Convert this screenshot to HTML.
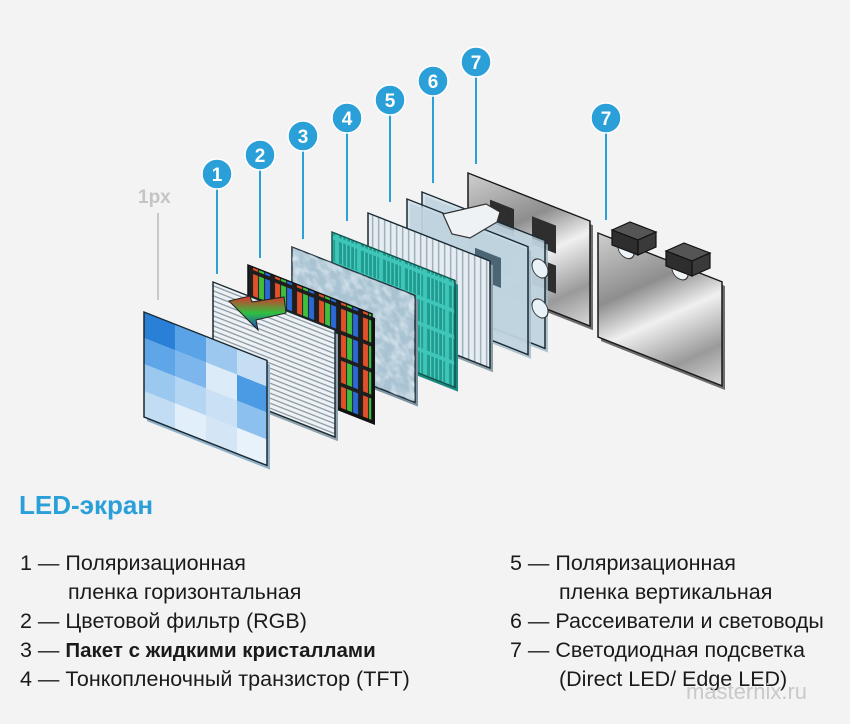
<!DOCTYPE html>
<html><head><meta charset="utf-8">
<style>
html,body{margin:0;padding:0;background:#f3f3f3;}
body{width:850px;height:724px;overflow:hidden;position:relative;font-family:"Liberation Sans","DejaVu Sans",sans-serif;}
svg{position:absolute;left:0;top:0;}
.t{position:absolute;font-size:21.5px;color:#1a1a1a;white-space:nowrap;line-height:1;}
</style></head><body>
<svg width="850" height="724" viewBox="0 0 850 724">
<defs>
<pattern id="hl" width="10" height="5" patternUnits="userSpaceOnUse"><rect width="10" height="5" fill="#eef2f5"/><rect y="3" width="10" height="1.4" fill="#8c9ba6"/></pattern>
<pattern id="vl" width="6" height="10" patternUnits="userSpaceOnUse"><rect width="6" height="10" fill="#e6edf2"/><rect x="4" width="1.4" height="10" fill="#9aaab5"/></pattern>
<pattern id="rgb" x="4" y="5" width="22" height="26" patternUnits="userSpaceOnUse"><rect width="22" height="26" fill="#1e1e1e"/><rect x="1" y="2" width="5" height="22" fill="#e0502a"/><rect x="7" y="2" width="5" height="22" fill="#3fbf3a"/><rect x="13" y="2" width="5" height="22" fill="#2a6ad8"/></pattern>
<pattern id="teal" x="5" y="5" width="22" height="26" patternUnits="userSpaceOnUse"><rect width="22" height="26" fill="#3fc6b8"/><rect x="2" y="2" width="18" height="22" fill="#1f9a8e"/><rect x="5" y="2" width="1.2" height="22" fill="#4fd0c2"/><rect x="9" y="2" width="1.2" height="22" fill="#4fd0c2"/><rect x="13" y="2" width="1.2" height="22" fill="#4fd0c2"/><rect x="17" y="2" width="1.2" height="22" fill="#4fd0c2"/></pattern>
<filter id="noise" x="0" y="0" width="100%" height="100%"><feTurbulence type="fractalNoise" baseFrequency="0.12" numOctaves="2" seed="3"/><feColorMatrix type="matrix" values="0 0 0 0 0.92  0 0 0 0 0.96  0 0 0 0 1  0 0 0 1.6 -0.6"/><feComposite in2="SourceGraphic" operator="in"/></filter>
<linearGradient id="metal" x1="0" y1="0" x2="1" y2="1"><stop offset="0" stop-color="#cfcfcf"/><stop offset="0.35" stop-color="#8e8e8e"/><stop offset="0.55" stop-color="#f0f0f0"/><stop offset="0.8" stop-color="#9a9a9a"/><stop offset="1" stop-color="#d8d8d8"/></linearGradient>
<linearGradient id="rain" x1="0" y1="0" x2="0" y2="1"><stop offset="0" stop-color="#e0302a"/><stop offset="0.5" stop-color="#30c040"/><stop offset="1" stop-color="#1a40c8"/></linearGradient>
</defs>

<g stroke="#2a9fd8" stroke-width="2">
<line x1="217" y1="174" x2="217" y2="274"/>
<line x1="260" y1="155" x2="260" y2="258"/>
<line x1="303" y1="136" x2="303" y2="239"/>
<line x1="347" y1="118" x2="347" y2="221"/>
<line x1="390" y1="100" x2="390" y2="202"/>
<line x1="433" y1="81" x2="433" y2="183"/>
<line x1="476" y1="62" x2="476" y2="164"/>
<line x1="606" y1="118" x2="606" y2="220"/>
</g>
<line x1="158" y1="213" x2="158" y2="300" stroke="#c8c8c8" stroke-width="2"/>
<text x="138" y="203" font-family="Liberation Sans, sans-serif" font-weight="bold" font-size="19" fill="#c4c4c4">1px</text>

<!-- 7b -->
<g transform="translate(598,233) skewY(21.5)">
<rect x="3" y="3" width="124" height="104" fill="#6e6e6e"/>
<rect width="124" height="104" fill="url(#metal)" stroke="#1a1a1a" stroke-width="1.5"/>
<ellipse cx="28" cy="6" rx="8" ry="8" fill="#eef4f8" stroke="#333"/>
<ellipse cx="82" cy="6" rx="8" ry="8" fill="#eef4f8" stroke="#333"/>
</g>
<g stroke="#111" stroke-width="1.2">
<polygon points="612,230 630,222 656,232 638,240" fill="#555"/>
<polygon points="612,230 638,240 638,255 612,245" fill="#2e2e2e"/>
<polygon points="638,240 656,232 656,247 638,255" fill="#3a3a3a"/>
<polygon points="666,251 684,243 710,253 692,261" fill="#555"/>
<polygon points="666,251 692,261 692,276 666,266" fill="#2e2e2e"/>
<polygon points="692,261 710,253 710,268 692,276" fill="#3a3a3a"/>
</g>

<!-- 7 -->
<g transform="translate(468,173) skewY(21.5)">
<rect x="3" y="3" width="122" height="105" fill="#6e6e6e"/>
<rect width="122" height="105" fill="url(#metal)" stroke="#1a1a1a" stroke-width="1.5"/>
<rect x="22" y="18" width="24" height="28" fill="#2e2e2e"/>
<rect x="64" y="18" width="24" height="28" fill="#2e2e2e"/>
<rect x="22" y="58" width="24" height="28" fill="#2e2e2e"/>
<rect x="64" y="58" width="24" height="28" fill="#2e2e2e"/>
</g>
<g transform="translate(422,192) skewY(21.5)">
<rect x="3" y="3" width="123" height="108" fill="#9fb6c4" opacity="0.8"/>
<rect width="123" height="108" fill="#c9dce8" fill-opacity="0.72" stroke="#1a2a33" stroke-width="1.5"/>
<ellipse cx="118" cy="30" rx="8" ry="9" fill="#e8f2f8" stroke="#333"/>
<ellipse cx="118" cy="70" rx="8" ry="9" fill="#e8f2f8" stroke="#333"/>
</g>
<g transform="translate(407,199) skewY(21.5)">
<rect x="3" y="3" width="121" height="108" fill="#9fb6c4" opacity="0.8"/>
<rect width="121" height="108" fill="#c9dce8" fill-opacity="0.72" stroke="#1a2a33" stroke-width="1.5"/>
<rect x="68" y="22" width="26" height="30" fill="#2f4a5a" opacity="0.8"/>
<ellipse cx="74" cy="38" rx="8" ry="9" fill="#cfe2ee" stroke="#333"/>
</g>
<polygon points="443,214 486,204 500,212 497,222 470,238 452,234" fill="#eef2f4" stroke="#333" stroke-width="1.2"/>
<g transform="translate(368,213) skewY(21.5)">
<rect x="3" y="3" width="122" height="107" fill="#8d9ea9"/>
<rect width="122" height="107" fill="url(#vl)" stroke="#1a2a33" stroke-width="1.5"/>
</g>
<g transform="translate(332,232) skewY(21.5)">
<rect x="3" y="3" width="123" height="107" fill="#1a8a80"/>
<rect width="123" height="107" fill="url(#teal)" stroke="#14524c" stroke-width="1.5"/>
</g>
<g transform="translate(292,247) skewY(21.5)">
<rect x="3" y="3" width="123" height="107" fill="#7d95a3"/>
<rect width="123" height="107" fill="#a9c3d2" stroke="#1a2a33" stroke-width="1.5"/>
<rect width="123" height="107" fill="#fff" filter="url(#noise)" opacity="0.8"/>
</g>
<g transform="translate(248,265) skewY(21.5)">
<rect x="3" y="3" width="124" height="107" fill="#111"/>
<rect width="124" height="107" fill="url(#rgb)" stroke="#111" stroke-width="1.5"/>
</g>
<g transform="translate(213,282) skewY(21.5)">
<rect x="3" y="3" width="122" height="107" fill="#8fa1ad"/>
<rect width="122" height="107" fill="url(#hl)" stroke="#1a2a33" stroke-width="1.5"/>
</g>
<polygon points="229,301 250,296 252,302 284,297 286,313 256,320 258,330" fill="url(#rain)" stroke="#222" stroke-width="1"/>
<g transform="translate(144,312) skewY(21.5)">
<rect x="3" y="3" width="123" height="105" fill="#8fb0c8"/>
<rect width="123" height="105" fill="#cfe3f4"/>
<rect x="0" y="0" width="31" height="26" fill="#2a7fd6"/><rect x="31" y="0" width="31" height="26" fill="#5aa3e6"/><rect x="62" y="0" width="31" height="26" fill="#9cc8ef"/><rect x="93" y="0" width="30" height="26" fill="#c6def4"/>
<rect x="0" y="26" width="31" height="26" fill="#5ea6e8"/><rect x="31" y="26" width="31" height="26" fill="#7db6ec"/><rect x="62" y="26" width="31" height="26" fill="#dcebf8"/><rect x="93" y="26" width="30" height="26" fill="#4a9be4"/>
<rect x="0" y="52" width="31" height="27" fill="#9ac8ef"/><rect x="31" y="52" width="31" height="27" fill="#b4d6f2"/><rect x="62" y="52" width="31" height="27" fill="#c9e0f5"/><rect x="93" y="52" width="30" height="27" fill="#8cc0ee"/>
<rect x="0" y="79" width="31" height="26" fill="#c2dcf3"/><rect x="31" y="79" width="31" height="26" fill="#e2eef9"/><rect x="62" y="79" width="31" height="26" fill="#d4e6f6"/><rect x="93" y="79" width="30" height="26" fill="#e8f2fa"/>
<rect width="123" height="105" fill="none" stroke="#1a2a33" stroke-width="1.5"/>
</g>

<g fill="#2a9fd8" stroke="#fff" stroke-width="1.5">
<circle cx="217" cy="174" r="15"/><circle cx="260" cy="155" r="15"/><circle cx="303" cy="136" r="15"/><circle cx="347" cy="118" r="15"/><circle cx="390" cy="100" r="15"/><circle cx="433" cy="81" r="15"/><circle cx="476" cy="62" r="15"/><circle cx="606" cy="118" r="15"/>
</g>
<g fill="#fff" font-family="Liberation Sans, sans-serif" font-weight="bold" font-size="19" text-anchor="middle">
<text x="217" y="181">1</text><text x="260" y="162">2</text><text x="303" y="143">3</text><text x="347" y="125">4</text><text x="390" y="107">5</text><text x="433" y="88">6</text><text x="476" y="69">7</text><text x="606" y="125">7</text>
</g>
</svg>

<div class="t" style="left:19px;top:492px;font-size:26px;font-weight:bold;color:#2a9fd8;">LED-экран</div>
<div class="t" style="left:20px;top:553px;">1 — Поляризационная</div>
<div class="t" style="left:68px;top:582px;">пленка горизонтальная</div>
<div class="t" style="left:20px;top:611px;">2 — Цветовой фильтр (RGB)</div>
<div class="t" style="left:20px;top:640px;">3 — <b style="font-size:20.5px">Пакет с жидкими кристаллами</b></div>
<div class="t" style="left:20px;top:669px;">4 — Тонкопленочный транзистор (TFT)</div>
<div class="t" style="left:510px;top:553px;">5 — Поляризационная</div>
<div class="t" style="left:559px;top:582px;">пленка вертикальная</div>
<div class="t" style="left:510px;top:611px;">6 — Рассеиватели и световоды</div>
<div class="t" style="left:510px;top:640px;">7 — Светодиодная подсветка</div>
<div class="t" style="left:559px;top:669px;">(Direct LED/ Edge LED)</div>
<div class="t" style="left:686px;top:681px;font-size:22px;color:#c9c9c9;">masternix.ru</div>
</body></html>
